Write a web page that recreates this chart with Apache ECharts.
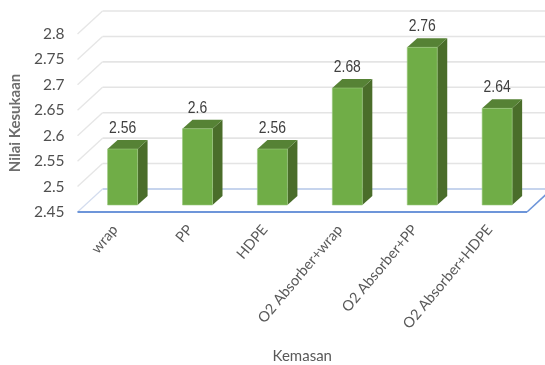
<!DOCTYPE html>
<html>
<head>
<meta charset="utf-8">
<style>html,body{margin:0;padding:0;background:#fff}#chart{width:545px;height:365px}</style>
<script src="https://cdn.jsdelivr.net/npm/echarts@6/dist/echarts.min.js"></script>
</head>
<body>
<div id="chart"></div>
<script>
// Kemasan categories and their mean Nilai Kesukaan scores
const categories = ['wrap', 'PP', 'HDPE', 'O2 Absorber+wrap', 'O2 Absorber+PP', 'O2 Absorber+HDPE'];
const scores = [2.56, 2.6, 2.56, 2.68, 2.76, 2.64];
const yTicks = [2.5, 2.55, 2.6, 2.65, 2.7, 2.75, 2.8];
const yBase = 2.45;

// Pseudo-3D projection: full floor depth and the plane the columns stand on
const DEPTH = { x: 25, y: -23 };
const BAR_PLANE = { x: 7.6, y: -7 };
const BAR_DEPTH = { x: 10, y: -9 };
const BAR_WIDTH = 30;

function line(x1, y1, x2, y2, stroke, width) {
  return { type: 'line', shape: { x1, y1, x2, y2 }, style: { stroke, lineWidth: width, fill: null } };
}

function renderGridline(params, api) {
  const y = api.coord([0, api.value(1)])[1];
  const left = params.coordSys.x;
  const right = left + params.coordSys.width + DEPTH.x;
  return {
    type: 'group',
    children: [
      line(left, y, left + DEPTH.x, y + DEPTH.y, '#e6e6e6', 1.4),
      line(left + DEPTH.x, y + DEPTH.y, right + 30, y + DEPTH.y, '#e4e4e4', 1.6)
    ]
  };
}

function renderFloor(params, api) {
  const y = api.coord([0, api.value(1)])[1];
  const left = params.coordSys.x;
  const right = left + params.coordSys.width;
  return {
    type: 'group',
    children: [
      line(left + DEPTH.x, y + DEPTH.y, right + 30, y + DEPTH.y, '#b3c6e7', 1.6),
      line(left, y, left + DEPTH.x, y + DEPTH.y, '#d3dcee', 1.2),
      line(left, y, right, y, '#6d95d9', 1.8),
      line(right, y, right + DEPTH.x, y + DEPTH.y, '#6d95d9', 1.6)
    ]
  };
}

function renderColumn(params, api) {
  const top = api.coord([api.value(0), api.value(1)]);
  const bottom = api.coord([api.value(0), yBase]);
  const x0 = top[0] + BAR_PLANE.x - BAR_WIDTH / 2;
  const x1 = x0 + BAR_WIDTH;
  const yT = top[1] + BAR_PLANE.y;
  const yB = bottom[1] + BAR_PLANE.y;
  const dx = BAR_DEPTH.x, dy = BAR_DEPTH.y;
  return {
    type: 'group',
    children: [
      {
        type: 'polygon',
        shape: { points: [[x1, yT], [x1 + dx, yT + dy], [x1 + dx, yB + dy], [x1, yB]] },
        style: { fill: '#4a6d2a' }
      },
      {
        type: 'polygon',
        shape: { points: [[x0, yT], [x0 + dx, yT + dy], [x1 + dx, yT + dy], [x1, yT]] },
        style: { fill: '#568235' }
      },
      {
        type: 'rect',
        shape: { x: x0, y: yT, width: BAR_WIDTH, height: yB - yT },
        style: { fill: '#70ad47', stroke: '#9cca80', lineWidth: 0.6 }
      },
      {
        // Tall, condensed value label
        type: 'text',
        x: (x0 + x1) / 2,
        y: yT - 20.5,
        scaleX: 0.87,
        style: {
          x: 0,
          y: 0,
          text: String(api.value(1)),
          align: 'center',
          verticalAlign: 'middle',
          fill: '#404040',
          font: '16px "Liberation Sans", sans-serif'
        }
      }
    ]
  };
}

const chart = echarts.init(document.getElementById('chart'), null, { renderer: 'canvas' });
chart.setOption({
  animation: false,
  backgroundColor: '#fff',
  grid: { left: 75, right: 18, top: 34, bottom: 153 },
  xAxis: {
    type: 'category',
    data: categories,
    name: 'Kemasan',
    nameLocation: 'middle',
    nameGap: 144,
    nameTextStyle: { color: '#595959', fontSize: 15, fontFamily: 'Lato', verticalAlign: 'middle' },
    axisLine: { show: false },
    axisTick: { show: false },
    axisLabel: {
      rotate: 50,
      interval: 0,
      margin: 15,
      color: '#595959',
      fontSize: 14.5,
      fontFamily: 'Lato'
    }
  },
  yAxis: {
    type: 'value',
    min: yBase,
    max: 2.8,
    interval: 0.05,
    name: 'Nilai Kesukaan',
    nameLocation: 'middle',
    nameGap: 46,
    nameTextStyle: { color: '#6e6e6e', fontSize: 15, fontWeight: 'bold', fontFamily: 'Lato', verticalAlign: 'middle' },
    axisLine: { show: false },
    axisTick: { show: false },
    splitLine: { show: false },
    axisLabel: {
      margin: 13,
      color: '#505050',
      fontSize: 15.5,
      fontFamily: 'Lato',
      formatter: v => String(+v.toFixed(2))
    }
  },
  series: [
    { type: 'custom', renderItem: renderGridline, clip: false, z: 1, silent: true,
      data: yTicks.map(v => [0, v]) },
    { type: 'custom', renderItem: renderFloor, clip: false, z: 2, silent: true,
      data: [[0, yBase]] },
    { type: 'custom', renderItem: renderColumn, clip: false, z: 3, silent: true,
      data: scores.map((v, i) => [i, v]) }
  ]
});
</script>
</body>
</html>
